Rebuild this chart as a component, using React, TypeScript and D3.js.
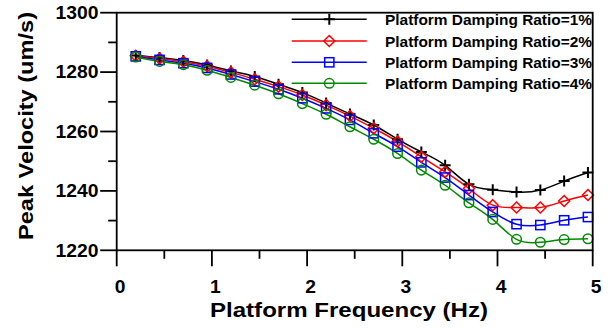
import React from "react";
import * as d3 from "d3";

// Platform frequency sample points (Hz)
const frequencies = [0.2, 0.45, 0.7, 0.95, 1.2, 1.45, 1.7, 1.95, 2.2, 2.45, 2.7, 2.95, 3.2, 3.45, 3.7, 3.95, 4.2, 4.45, 4.7, 4.95];

// Peak velocity (um/s) per damping ratio
const damping1 = [1285.6, 1284.9, 1283.9, 1282.4, 1280.4, 1278.5, 1275.9, 1273.1, 1269.6, 1265.9, 1262.2, 1257.4, 1253.1, 1248.6, 1242.2, 1240.4, 1239.6, 1240.3, 1243.3, 1246.2];
const damping2 = [1285.5, 1284.6, 1283.5, 1282.0, 1279.9, 1277.6, 1275.1, 1272.3, 1268.9, 1265.2, 1261.1, 1256.6, 1251.5, 1246.4, 1240.8, 1235.2, 1234.4, 1234.4, 1236.6, 1238.6];
const damping3 = [1285.3, 1284.1, 1283.0, 1281.4, 1279.2, 1276.8, 1274.2, 1271.2, 1267.8, 1263.9, 1259.4, 1254.9, 1249.6, 1244.5, 1238.6, 1232.9, 1228.8, 1228.5, 1230.1, 1231.2];
const damping4 = [1285.1, 1283.6, 1282.5, 1280.6, 1278.2, 1275.6, 1272.7, 1269.4, 1265.8, 1261.6, 1257.4, 1252.6, 1247.0, 1241.9, 1236.0, 1230.4, 1223.7, 1222.7, 1223.6, 1223.9];

const seriesLabels = [
  "Platform Damping Ratio=1%",
  "Platform Damping Ratio=2%",
  "Platform Damping Ratio=3%",
  "Platform Damping Ratio=4%",
];
const seriesColors = ["#000000", "#ff0000", "#0000ff", "#008a00"];
const seriesMarkers = ["plus", "diamond", "square", "circle"];

const xTicks = [0, 1, 2, 3, 4, 5];
const yTicks = [1220, 1240, 1260, 1280, 1300];

const W = 610;
const H = 328;
const left = 116.7;
const right = 592.7;
const top = 12.7;
const bottom = 250.3;
const font = "'Liberation Sans', Arial, sans-serif";

function Marker({ kind, x, y, color }: { kind: string; x: number; y: number; color: string }) {
  const sw = 1.5;
  if (kind === "plus") {
    const r = 5.5;
    return (
      <path d={`M${x - r},${y}H${x + r}M${x},${y - r}V${y + r}`} stroke={color} strokeWidth={2} fill="none" />
    );
  }
  if (kind === "diamond") {
    const r = 5.5;
    return (
      <path d={`M${x},${y - r}L${x + r},${y}L${x},${y + r}L${x - r},${y}Z`} stroke={color} strokeWidth={sw} fill="none" />
    );
  }
  if (kind === "square") {
    const r = 4.6;
    return <rect x={x - r} y={y - r} width={2 * r} height={2 * r} stroke={color} strokeWidth={sw} fill="none" />;
  }
  return <circle cx={x} cy={y} r={4.8} stroke={color} strokeWidth={sw} fill="none" />;
}

export default function App() {
  const x = d3.scaleLinear().domain([0, 5]).range([left, right]);
  const y = d3.scaleLinear().domain([1220, 1300]).range([bottom, top]);
  const series = [damping1, damping2, damping3, damping4];
  const line = d3
    .line<number>()
    .x((_, i) => x(frequencies[i]))
    .y((d) => y(d))
    .curve(d3.curveNatural);

  const xMinor = d3.range(0.5, 5, 1);
  const yMinor = d3.range(1230, 1300, 20);

  const legendY = [19.3, 41.0, 62.3, 83.3];

  return (
    <svg width={W} height={H} style={{ position: "absolute", left: 0, top: 0 }} fontFamily={font} fontWeight="bold">
      <rect width={W} height={H} fill="#ffffff" />

      {/* curves */}
      {series.map((s, si) => (
        <path key={`l${si}`} d={line(s) ?? ""} stroke={seriesColors[si]} strokeWidth={1.5} fill="none" />
      ))}
      {series.map((s, si) =>
        s.map((v, i) => (
          <Marker key={`m${si}-${i}`} kind={seriesMarkers[si]} x={x(frequencies[i])} y={y(v)} color={seriesColors[si]} />
        ))
      )}

      {/* frame */}
      <rect x={left} y={top} width={right - left} height={bottom - top} fill="none" stroke="#000" strokeWidth={1.8} />

      {/* x axis ticks */}
      {xTicks.map((t) => (
        <g key={`xt${t}`}>
          <line x1={x(t)} x2={x(t)} y1={bottom} y2={bottom + 16} stroke="#000" strokeWidth={1.8} />
          <text x={x(t) + 3.5} y={292.7} textAnchor="middle" fontSize={17.5} textLength={10.7} lengthAdjust="spacingAndGlyphs">
            {t}
          </text>
        </g>
      ))}
      {xMinor.map((t) => (
        <line key={`xm${t}`} x1={x(t)} x2={x(t)} y1={bottom} y2={bottom + 8.5} stroke="#000" strokeWidth={1.8} />
      ))}

      {/* y axis ticks */}
      {yTicks.map((t) => (
        <g key={`yt${t}`}>
          <line x1={left - 16.5} x2={left} y1={y(t)} y2={y(t)} stroke="#000" strokeWidth={1.8} />
          <text x={98.5} y={y(t) + 6.3} textAnchor="end" fontSize={17.5} textLength={43} lengthAdjust="spacingAndGlyphs">
            {t}
          </text>
        </g>
      ))}
      {yMinor.map((t) => (
        <line key={`ym${t}`} x1={left - 8.5} x2={left} y1={y(t)} y2={y(t)} stroke="#000" strokeWidth={1.8} />
      ))}

      {/* axis titles */}
      <text x={349} y={317} textAnchor="middle" fontSize={21} textLength={278} lengthAdjust="spacingAndGlyphs">
        Platform Frequency (Hz)
      </text>
      <text
        transform={`translate(32.5,126) rotate(-90)`}
        textAnchor="middle"
        fontSize={20}
        textLength={228}
        lengthAdjust="spacingAndGlyphs"
      >
        Peak Velocity (um/s)
      </text>

      {/* legend */}
      {seriesLabels.map((label, i) => (
        <g key={`lg${i}`}>
          <line x1={291.7} x2={366.7} y1={legendY[i]} y2={legendY[i]} stroke={seriesColors[i]} strokeWidth={1.5} />
          <Marker kind={seriesMarkers[i]} x={329.3} y={legendY[i]} color={seriesColors[i]} />
          <text x={385} y={legendY[i] + 5.5} fontSize={15.5} textLength={207} lengthAdjust="spacingAndGlyphs">
            {label}
          </text>
        </g>
      ))}
    </svg>
  );
}
